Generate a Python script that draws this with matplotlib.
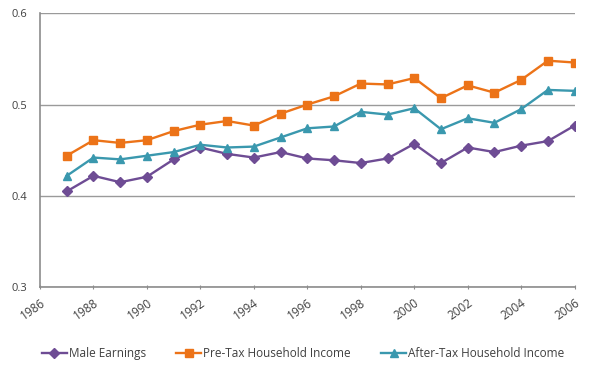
import matplotlib
matplotlib.use("Agg")
import matplotlib.pyplot as plt

years = list(range(1987, 2007))
male = [0.405, 0.422, 0.415, 0.421, 0.440, 0.453, 0.446, 0.442, 0.448,
        0.441, 0.439, 0.436, 0.441, 0.457, 0.436, 0.453, 0.448, 0.455, 0.460, 0.477]
pretax = [0.444, 0.461, 0.458, 0.461, 0.471, 0.478, 0.482, 0.477, 0.490,
          0.500, 0.509, 0.523, 0.522, 0.529, 0.507, 0.521, 0.513, 0.527, 0.548, 0.546]
aftertax = [0.422, 0.442, 0.440, 0.444, 0.448, 0.456, 0.453, 0.454, 0.464,
            0.474, 0.476, 0.492, 0.489, 0.496, 0.473, 0.485, 0.480, 0.495, 0.516, 0.515]
labels = ["Male Earnings", "Pre-Tax Household Income", "After-Tax Household Income"]
xticks = list(range(1986, 2007, 2))
yticks = [0.3, 0.4, 0.5, 0.6]

plt.rcParams['font.family'] = ['Open Sans', 'DejaVu Sans']

fig = plt.figure(figsize=(6.0, 3.66), dpi=100)
ax = fig.add_axes([0.0667, 0.215, 0.891, 0.749])

ax.plot(years, male, color='#6E4C94', marker='D', markersize=5, lw=1.7, label=labels[0])
ax.plot(years, pretax, color='#EC7318', marker='s', markersize=5.5, lw=1.7, label=labels[1])
ax.plot(years, aftertax, color='#3A98AE', marker='^', markersize=6, lw=1.7, label=labels[2])

ax.set_xlim(1986, 2006)
ax.set_ylim(0.3, 0.6)
ax.set_xticks(xticks)
ax.set_xticklabels([str(x) for x in xticks], rotation=35, ha='right', rotation_mode='anchor')
ax.set_yticks(yticks)
ax.set_yticklabels([str(y) for y in yticks])
ax.yaxis.grid(True, color='#9A9A9A', lw=1)
ax.set_axisbelow(True)
for s in ['top', 'right']:
    ax.spines[s].set_visible(False)
for s in ['left', 'bottom']:
    ax.spines[s].set_color('#8C8C8C')
    ax.spines[s].set_linewidth(1.2)
ax.tick_params(axis='both', colors='#8C8C8C', labelcolor='#404040', labelsize=8.5, length=3)
ax.tick_params(axis='y', length=0, pad=9, labelsize=8)
ax.tick_params(axis='x', direction='inout', pad=5)

fig.legend(loc='lower center', bbox_to_anchor=(0.505, -0.012), ncol=3, frameon=False,
           fontsize=8.5, handlelength=2.1, columnspacing=2.6, handletextpad=0.15,
           labelcolor='#404040')

fig.savefig('out.png', dpi=100)
